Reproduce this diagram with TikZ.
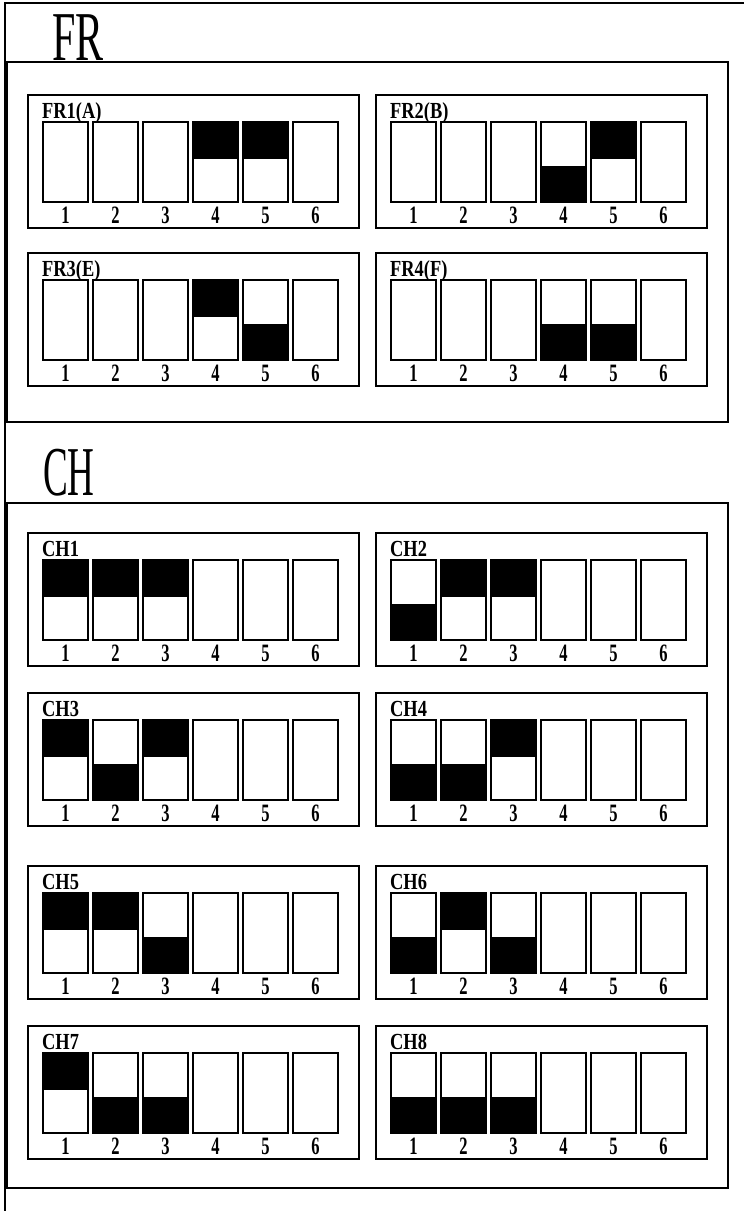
\documentclass[tikz,border=0pt]{standalone}
\usepackage{fontspec}
\setmainfont{Liberation Serif}
\tikzset{
  frame/.style={draw=black, line width=1.3pt},
  bankbox/.style={draw=black, line width=1.4pt},
  swbox/.style={draw=black, line width=1.4pt},
  blk/.style={fill=black},
  numlbl/.style={font=\fontsize{25}{27}\selectfont\bfseries, anchor=base, inner sep=0pt},
  banklbl/.style={font=\fontsize{23}{25}\selectfont\bfseries, anchor=base west, inner sep=0pt},
  titlelbl/.style={font=\fontsize{70}{72}\selectfont, anchor=base west, inner sep=0pt},
}
% #1 name, #2 first switch x, #3 switch top y, #4 label, #5 states (0 none, 1 top black, 2 bottom black)
\newcommand\dipbank[5]{%
  \draw[bankbox] (#2-15,#3-27) rectangle (#2+316,#3+106);
  \node[banklbl] (#1lbl) at (#2-1,#3-4) {\scalebox{0.8}[1]{#4}};
  \foreach \s [count=\i] in {#5} {
    \pgfmathsetmacro\xa{#2+50*(\i-1)}
    \ifnum\s=1 \fill[blk] (\xa,#3) rectangle (\xa+45,#3+37); \fi
    \ifnum\s=2 \fill[blk] (\xa,#3+44) rectangle (\xa+45,#3+80); \fi
    \draw[swbox] (\xa,#3) rectangle (\xa+45,#3+80);
    \node[numlbl] (#1n\i) at (\xa+22.5,#3+101) {\scalebox{0.66}[1]{\i}};
  }
}
\begin{document}
\begin{tikzpicture}[x=1pt,y=-1pt]
\useasboundingbox (0,0) rectangle (744,1211);
\draw[frame] (744,3) -- (5,3) -- (5,1211);
\node[titlelbl] (frtitle) at (52,60) {\scalebox{0.6}[1]{FR}};
\draw[bankbox] (7,62) rectangle (728,422);
\dipbank{fra}{43}{122}{FR1(A)}{0,0,0,1,1,0}
\dipbank{frb}{391}{122}{FR2(B)}{0,0,0,2,1,0}
\dipbank{fre}{43}{280}{FR3(E)}{0,0,0,1,2,0}
\dipbank{frf}{391}{280}{FR4(F)}{0,0,0,2,2,0}
\node[titlelbl] (chtitle) at (43,495) {\scalebox{0.53}[1]{CH}};
\draw[bankbox] (7,503) rectangle (728,1188);
\dipbank{cha}{43}{560}{CH1}{1,1,1,0,0,0}
\dipbank{chb}{391}{560}{CH2}{2,1,1,0,0,0}
\dipbank{chc}{43}{720}{CH3}{1,2,1,0,0,0}
\dipbank{chd}{391}{720}{CH4}{2,2,1,0,0,0}
\dipbank{che}{43}{893}{CH5}{1,1,2,0,0,0}
\dipbank{chf}{391}{893}{CH6}{2,1,2,0,0,0}
\dipbank{chg}{43}{1053}{CH7}{1,2,2,0,0,0}
\dipbank{chh}{391}{1053}{CH8}{2,2,2,0,0,0}
\end{tikzpicture}
\end{document}
